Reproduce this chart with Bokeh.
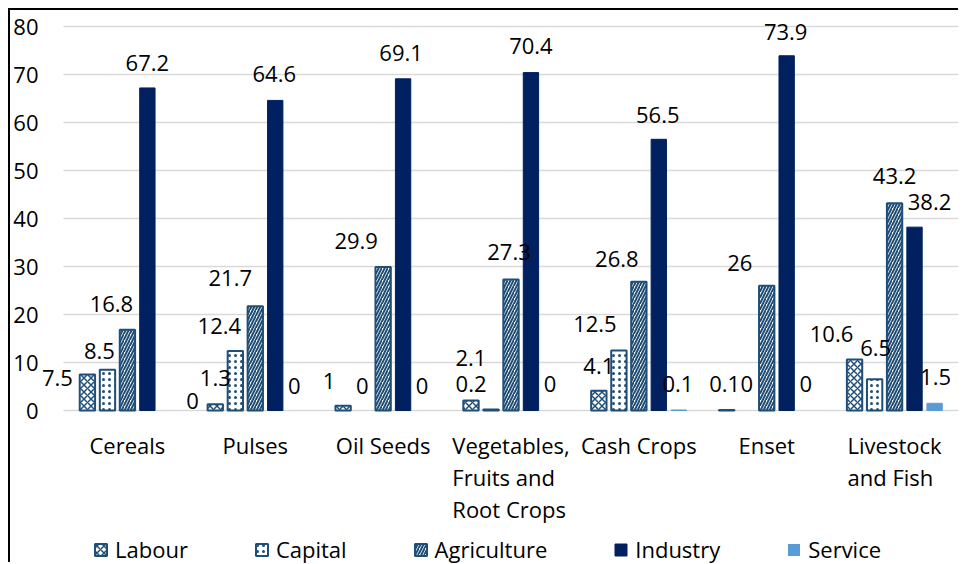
from bokeh.plotting import figure
from bokeh.models import ColumnDataSource, Range1d, FixedTicker, LabelSet, Legend, LegendItem
from bokeh.core.properties import value
from bokeh.embed import file_html
from bokeh.resources import INLINE

# ---------------- data ----------------
categories = ["Cereals", "Pulses", "Oil Seeds", "Vegetables, Fruits and Root Crops",
              "Cash Crops", "Enset", "Livestock and Fish"]
category_labels = ["Cereals", "Pulses", "Oil Seeds", "Vegetables,\nFruits and\nRoot Crops",
                   "Cash Crops", "Enset", "Livestock\nand Fish"]
series_names = ["Labour", "Capital", "Agriculture", "Industry", "Service"]
labour = [7.5, 1.3, 1, 2.1, 4.1, 0.1, 10.6]
capital = [8.5, 12.4, 0, 0.2, 12.5, 0, 6.5]
agriculture = [16.8, 21.7, 29.9, 27.3, 26.8, 26, 43.2]
industry = [67.2, 64.6, 69.1, 70.4, 56.5, 73.9, 38.2]
service = [0, 0, 0, 0, 0.1, 0, 1.5]
y_ticks = [0, 10, 20, 30, 40, 50, 60, 70, 80]

# ---------------- styles / layout ----------------
FONT = "Open Sans"
OUTLINE = "#1F4E79"
W, H = 950, 554
FRAME_LEFT, FRAME_RIGHT_PAD = 30, 2      # canvas frame (wide so edge labels are not clipped)
PLOT_LEFT = 53                           # where the category area (gridlines) starts
AXIS_TOP_PX, AXIS_ZERO_PX = 16, 400      # pixel rows of the 80 and 0 gridlines
n = len(categories)
CAT_PX = (W - FRAME_RIGHT_PAD - PLOT_LEFT) / n
PX_PER_UNIT = (AXIS_ZERO_PX - AXIS_TOP_PX) / y_ticks[-1]
x_start = -0.5 - (PLOT_LEFT - FRAME_LEFT) / CAT_PX
x_end = n - 0.5
y_start = -(H - AXIS_ZERO_PX) / PX_PER_UNIT
y_end = y_ticks[-1] + AXIS_TOP_PX / PX_PER_UNIT

bar_styles = {
    "Labour": dict(fill_color="white", line_color=OUTLINE,
                   hatch_pattern="diagonal_cross", hatch_color=OUTLINE, hatch_scale=7, hatch_weight=1.5),
    "Capital": dict(fill_color="white", line_color=OUTLINE,
                    hatch_pattern="dot", hatch_color=OUTLINE, hatch_scale=6, hatch_weight=2),
    "Agriculture": dict(fill_color="white", line_color=OUTLINE,
                        hatch_pattern="right_diagonal_line", hatch_color=OUTLINE, hatch_scale=6, hatch_weight=2),
    "Industry": dict(fill_color="#002060", line_color="#002060"),
    "Service": dict(fill_color="#5B9BD5", line_color="#5B9BD5"),
}
outline_width = {"Labour": 2, "Capital": 2, "Agriculture": 2, "Industry": 1, "Service": 1}
dodge_offsets = [-0.313, -0.156, 0.0, 0.156, 0.313]
# data-label placement tweaks (screen px, + = right / down) as in the reference
label_dx = [
    [-30, 0, -14, 0, 0, -2, -23],
    [-8, -16, -1, -20, -24, 0, 1],
    [-16, -25, -27, -2, -22, -27, 0],
    [0, -1, -2, 0, -1, -1, 15],
    [25, -1, -1, -1, -1, -1, 1],
]
label_dy = [
    [3, -26, -25, -42, -25, -26, -26],
    [-19, -25, -25, -26, -27, -27, -31],
    [-26, -28, -26, -27, -23, -23, -27],
    [-25, -26, -26, -27, -24, -24, -25],
    [-10, -25, -25, -27, -26, -27, -26],
]

p = figure(x_range=Range1d(x_start, x_end), y_range=Range1d(y_start, y_end),
           width=W, height=H, output_backend="svg", toolbar_location=None,
           min_border_left=FRAME_LEFT, min_border_right=FRAME_RIGHT_PAD,
           min_border_top=0, min_border_bottom=0)
p.styles = {"margin-left": "8px", "margin-top": "8px",
            "border-left": "2px solid black", "border-top": "2px solid black"}
p.outline_line_color = None
p.xaxis.visible = False
p.xgrid.grid_line_color = None
p.ygrid.grid_line_color = None

idx = list(range(n))

# horizontal gridlines across the category area
grid_src = ColumnDataSource(dict(y=y_ticks, x0=[idx[0] - 0.5] * len(y_ticks),
                                 x1=[idx[-1] + 0.5] * len(y_ticks)))
p.segment(x0="x0", x1="x1", y0="y", y1="y", source=grid_src, line_color="#D9D9D9", line_width=1.5)

all_series = [labour, capital, agriculture, industry, service]
items = []
for k, (name, vals) in enumerate(zip(series_names, all_series)):
    src = ColumnDataSource(dict(
        x=[i + dodge_offsets[k] for i in idx], val=vals,
        lab=[f"{v:g}" for v in vals],
        lw=[outline_width[name] if v > 0 else 0 for v in vals],
        dx=label_dx[k], dy=[-d for d in label_dy[k]],
    ))
    r = p.vbar(x="x", top="val", bottom=0, width=0.12, line_width="lw", source=src, **bar_styles[name])
    items.append(LegendItem(label=name, renderers=[r]))
    p.add_layout(LabelSet(x="x", y="val", text="lab", x_offset="dx", y_offset="dy", source=src,
                          text_font=value(FONT), text_font_size=value("22px"), text_align="center",
                          text_baseline="middle", text_color="black"))

# category names (multi-line) under the zero line
cat_src = ColumnDataSource(dict(x=idx, lab=category_labels, zero=[0] * n))
p.add_layout(LabelSet(x="x", y="zero", text="lab", source=cat_src, y_offset=-19,
                      text_font=value(FONT), text_font_size=value("22px"), text_align="center",
                      text_baseline="top", text_line_height=1.08, text_color="black"))

# y axis
p.yaxis.ticker = FixedTicker(ticks=y_ticks)
p.yaxis.axis_line_color = None
p.yaxis.major_tick_line_color = None
p.yaxis.minor_tick_line_color = None
p.yaxis.major_tick_out = 0
p.yaxis.major_tick_in = 0
p.yaxis.major_label_standoff = 2
p.yaxis.major_label_text_font = FONT
p.yaxis.major_label_text_font_size = "22px"
p.yaxis.major_label_text_color = "black"

# legend
lg = Legend(items=items, orientation="horizontal", location=(PLOT_LEFT - FRAME_LEFT + 30, 0),
            spacing=66, glyph_width=15, glyph_height=15, label_standoff=7, padding=0, margin=0,
            border_line_color=None, background_fill_alpha=0,
            label_text_font=FONT, label_text_font_size="22px", label_text_color="black")
p.add_layout(lg)

open("out.html", "w").write(file_html(p, INLINE))
